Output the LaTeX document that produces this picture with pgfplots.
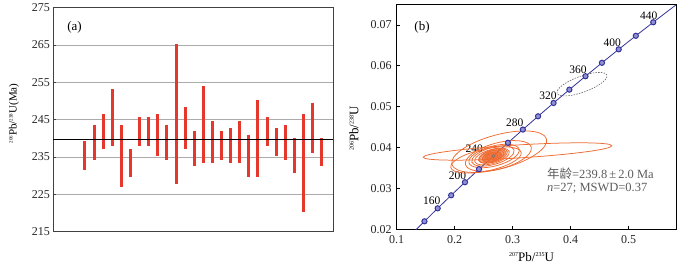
\documentclass[border=0pt]{standalone}
\usepackage{pgfplots}
\pgfplotsset{compat=1.18}
\usepackage{pgfplotstable}
\usepackage{fontspec}
\setmainfont{Liberation Serif}
\newfontfamily\cjk{Noto Sans CJK SC}
\definecolor{barred}{HTML}{E6372D}
\definecolor{ellcol}{HTML}{EF6A2F}
\definecolor{concol}{HTML}{33339A}
\definecolor{markfill}{HTML}{9090D4}
\definecolor{gridgray}{HTML}{ABABAB}
\definecolor{txtgray}{HTML}{5C5C5C}
\pgfdeclareplotmark{nomark}{}
\newcommand{\sups}[2][5]{\raisebox{0.8ex}{\fontsize{#1}{#1}\selectfont #2}}
\newcommand{\fs}[1]{\fontsize{#1}{#1}\selectfont}

% (a) 206Pb/238U ages with errors
\pgfplotstableread{
x y e
1 235.3 3.9
2 239.0 4.7
3 241.8 4.7
4 245.55 7.55
5 235.3 8.4
6 233.4 3.8
7 241.8 3.8
8 241.8 3.8
9 240.9 5.6
10 239.0 4.7
11 246.55 18.75
12 242.75 5.65
13 237.2 4.7
14 243.65 10.25
15 239.05 5.65
16 238.1 3.8
17 238.15 4.75
18 239.05 5.65
19 235.25 5.65
20 240.0 10.4
21 241.8 3.8
22 239.1 3.8
23 239.0 4.7
24 235.4 4.7
25 233.45 13.05
26 242.8 6.6
27 236.3 3.8
}\agetab

% concordia curve (207/235, 206/238)
\pgfplotstableread{
x y
0.125449 0.018789
0.136588 0.020371
0.147838 0.021955
0.170670 0.025131
0.193957 0.028316
0.217707 0.031511
0.241931 0.034717
0.266635 0.037932
0.291831 0.041157
0.317530 0.044392
0.343738 0.047637
0.370467 0.050893
0.397729 0.054158
0.425534 0.057434
0.453892 0.060720
0.482812 0.064016
0.512308 0.067322
0.542392 0.070638
0.573072 0.073965
0.604365 0.077302
}\concordia

\pgfplotstableread{
x y
0.147838 0.021955
0.170670 0.025131
0.193957 0.028316
0.217707 0.031511
0.241931 0.034717
0.291831 0.041157
0.317530 0.044392
0.343738 0.047637
0.370467 0.050893
0.397729 0.054158
0.425534 0.057434
0.453892 0.060720
0.482812 0.064016
0.512308 0.067322
0.542392 0.070638
}\conmarks

% error ellipses: centre, semi-axes (pt), angle (deg), fill opacity
\pgfplotstableread{
x y a b ang f
0.3083 0.03903 94.5 6.5 3.5 0
0.2767 0.03898 49 17 15 0
0.2753 0.03795 34 13 15 0
0.2540 0.03695 36 11 12 0
0.2678 0.03793 26 10 15 0
0.2660 0.03793 22 8.5 16 0
0.2643 0.03780 18 7 16 0
0.2660 0.03793 15 6.2 17 0.35
0.2634 0.03780 13 5.5 17 0.35
0.2678 0.03805 12 5 18 0.35
0.2643 0.03768 10 4.5 16 0.35
0.2660 0.03793 8 3.5 17 0.35
0.2652 0.03793 6 3 17 0.35
}\ellipses

\pgfplotstableread{
x y a b ang f
0.4195 0.05549 26.5 8 20 0
}\dashell

\begin{document}
\begin{tikzpicture}
\useasboundingbox (0pt,0pt) rectangle (688pt,269pt);
% ---------------- (a)
\begin{axis}[
  at={(53.3pt,37.3pt)}, anchor=south west,
  scale only axis, width=280pt, height=224pt,
  xmin=-2.48, xmax=28.27, ymin=215, ymax=275,
  xtick=\empty, scaled ticks=false,
  ytick={215,225,235,245,255,265,275},
  yticklabels={215,225,235,245,255,265,275},
  yticklabel style={font=\fs{12}, text=black!85},
  ytick pos=left,
  ymajorgrids, grid style={gridgray, line width=0.7pt},
  axis line style={black!75, line width=0.8pt},
  tick align=inside, major tick length=3pt,
  tick style={black!75, line width=0.6pt},
  ylabel={\sups{206}Pb/\sups{238}U(Ma)},
  ylabel style={font=\fs{11}, at={(axis description cs:-0.14,0.528)}, anchor=center},
  clip=false,
]
\addplot[draw=none, mark=none, forget plot,
  error bars/.cd, y dir=both, y explicit, error mark=none,
  error bar style={draw=barred, line width=3pt, solid}]
  table[x=x, y=y, y error=e] {\agetab};
\addplot[black, line width=1.1pt, forget plot] coordinates {(-2.48,239.8) (28.27,239.8)};
\node[font=\fs{13}] at (axis description cs:0.076,0.914) {(a)};
\end{axis}
% ---------------- (b)
\begin{axis}[
  at={(396.7pt,39.7pt)}, anchor=south west,
  scale only axis, width=279.3pt, height=225.3pt,
  xmin=0.1, xmax=0.5816, ymin=0.02, ymax=0.0751,
  scaled ticks=false,
  xtick={0.1,0.2,0.3,0.4,0.5}, xticklabels={0.1,0.2,0.3,0.4,0.5},
  ytick={0.02,0.03,0.04,0.05,0.06,0.07},
  yticklabels={0.02,0.03,0.04,0.05,0.06,0.07},
  ticklabel style={font=\fs{12}, text=black!85},
  yticklabel style={xshift=-1.5pt},
  xticklabel style={yshift=-3pt},
  xtick pos=left, ytick pos=left,
  tick align=inside, major tick length=3pt, tick style={black, line width=0.6pt},
  axis line style={black, line width=0.9pt},
  xlabel={\sups[6]{207}Pb/\sups[6]{235}U},
  ylabel={\sups[6]{206}Pb/\sups[6]{238}U},
  xlabel style={font=\fs{13}, at={(axis description cs:0.483,-0.123)}, anchor=center},
  ylabel style={font=\fs{13}, at={(axis description cs:-0.153,0.448)}, anchor=center},
]
\addplot[concol, line width=0.8pt, mark=none, forget plot] table[x=x,y=y] {\concordia};
\addplot[only marks, mark=nomark, scatter, forget plot,
  visualization depends on={\thisrow{a} \as \ea},
  visualization depends on={\thisrow{b} \as \eb},
  visualization depends on={\thisrow{ang} \as \eang},
  visualization depends on={\thisrow{f} \as \ef},
  scatter/@pre marker code/.code={%
    \pgfmathsetmacro\ra{\ea}\pgfmathsetmacro\rb{\eb}%
    \pgfmathsetmacro\ta{\eang}\pgfmathsetmacro\tb{\eang+90}\pgfmathsetmacro\fo{\ef}%
    \pgfpathellipse{\pgfpointorigin}{\pgfpointpolar{\ta}{\ra pt}}{\pgfpointpolar{\tb}{\rb pt}}%
    \pgfsetlinewidth{0.75pt}\pgfsetstrokecolor{ellcol}\pgfsetfillcolor{ellcol}\pgfsetfillopacity{\fo}%
    \pgfusepath{fill,stroke}},
  scatter/@post marker code/.code={},
] table[x=x,y=y] {\ellipses};
\addplot[only marks, mark=nomark, scatter, forget plot,
  visualization depends on={\thisrow{a} \as \ea},
  visualization depends on={\thisrow{b} \as \eb},
  visualization depends on={\thisrow{ang} \as \eang},
  scatter/@pre marker code/.code={%
    \pgfmathsetmacro\ra{\ea}\pgfmathsetmacro\rb{\eb}%
    \pgfmathsetmacro\ta{\eang}\pgfmathsetmacro\tb{\eang+90}%
    \pgfpathellipse{\pgfpointorigin}{\pgfpointpolar{\ta}{\ra pt}}{\pgfpointpolar{\tb}{\rb pt}}%
    \pgfsetlinewidth{0.6pt}\pgfsetstrokecolor{black!60}\pgfsetdash{{1.5pt}{1.2pt}}{0pt}%
    \pgfusepath{stroke}},
  scatter/@post marker code/.code={},
] table[x=x,y=y] {\dashell};
\addplot[only marks, mark=*, mark size=2.6pt, forget plot,
  mark options={draw=concol, fill=markfill, line width=1pt}] table[x=x,y=y] {\conmarks};
\addplot[only marks, mark=o, mark size=1.6pt, forget plot,
  mark options={draw=black!55, line width=0.6pt}] coordinates {(0.266635,0.037932)};
\node[font=\fs{11.5}, xshift=-6pt, yshift=7.3pt] at (axis cs:0.170670,0.025131) {160};
\node[font=\fs{11.5}, xshift=-7.5pt, yshift=6.5pt] at (axis cs:0.217707,0.031511) {200};
\node[font=\fs{11.5}, xshift=-19pt, yshift=7.7pt] at (axis cs:0.266635,0.037932) {240};
\node[font=\fs{11.5}, xshift=-8pt, yshift=7pt] at (axis cs:0.317530,0.044392) {280};
\node[font=\fs{11.5}, xshift=-5.5pt, yshift=7pt] at (axis cs:0.370467,0.050893) {320};
\node[font=\fs{11.5}, xshift=-7.5pt, yshift=6.5pt] at (axis cs:0.425534,0.057434) {360};
\node[font=\fs{11.5}, xshift=-6.5pt, yshift=6.5pt] at (axis cs:0.482812,0.064016) {400};
\node[font=\fs{11.5}, xshift=-4.5pt, yshift=7pt] at (axis cs:0.542392,0.070638) {440};
\node[font=\fs{13}] at (axis description cs:0.0906,0.896) {(b)};
\node[anchor=west, inner sep=0pt, font=\fs{12.5}, text=txtgray] at (axis cs:0.3591,0.03352) {{\cjk 年龄}=239.8\,±\,2.0 Ma};
\node[anchor=west, inner sep=0pt, font=\fs{12.5}, text=txtgray] at (axis cs:0.3591,0.02998) {\textit{n}=27; MSWD=0.37};
\end{axis}
\end{tikzpicture}
\end{document}
